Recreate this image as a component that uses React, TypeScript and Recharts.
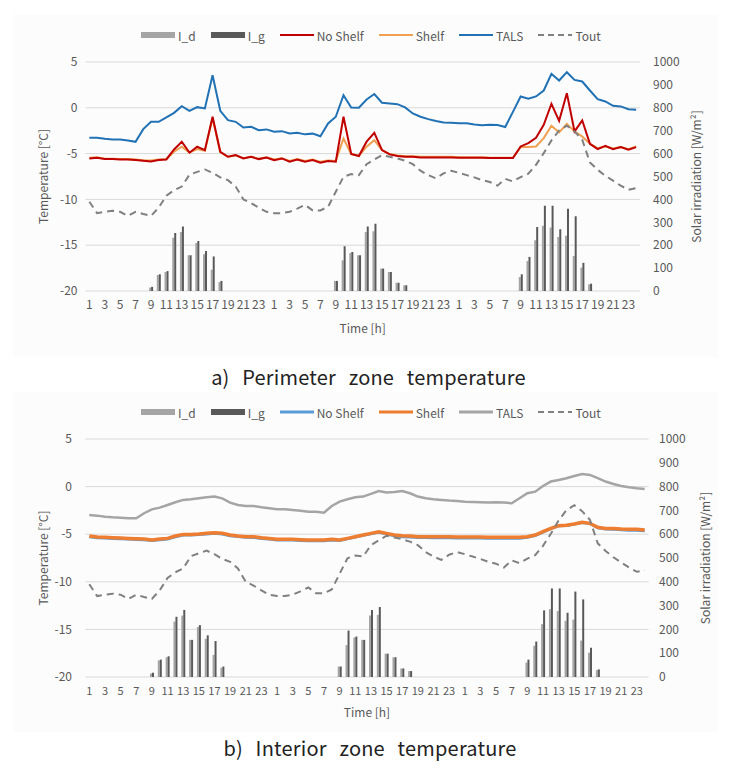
import React from 'react';
import { ComposedChart, Bar, Line, XAxis, YAxis, CartesianGrid, Legend } from 'recharts';

// ---------- categories ----------
const dayHours = [1, 2, 3, 4, 5, 6, 7, 8, 9, 10, 11, 12, 13, 14, 15, 16, 17, 18, 19, 20, 21, 22, 23, 24];
const days = [1, 2, 3];

// ---------- solar irradiation [W/m2] (shared by both panels) ----------
const iD = [
  0, 0, 0, 0, 0, 0, 0, 0, 15, 70, 83, 233, 258, 156, 210, 160, 93, 39, 0, 0, 0, 0, 0, 0,
  0, 0, 0, 0, 0, 0, 0, 0, 44, 134, 166, 156, 258, 261, 98, 83, 36, 25, 0, 0, 0, 0, 0, 0,
  0, 0, 0, 0, 0, 0, 0, 0, 61, 131, 222, 285, 277, 236, 241, 153, 102, 29, 0, 0, 0, 0, 0, 0,
];
const iG = [
  0, 0, 0, 0, 0, 0, 0, 0, 18, 73, 87, 253, 282, 156, 218, 175, 151, 44, 0, 0, 0, 0, 0, 0,
  0, 0, 0, 0, 0, 0, 0, 0, 44, 195, 170, 156, 282, 294, 98, 83, 36, 25, 0, 0, 0, 0, 0, 0,
  0, 0, 0, 0, 0, 0, 0, 0, 73, 149, 280, 372, 372, 270, 359, 326, 123, 32, 0, 0, 0, 0, 0, 0,
];

// ---------- outdoor temperature [°C] (shared) ----------
const tOut = [
  -10.25, -11.5, -11.35, -11.25, -11.35, -11.8, -11.35, -11.6, -11.8, -10.9,
  -9.6, -9.0, -8.6, -7.3, -7.0, -6.73, -7.1, -7.6, -7.9, -8.6,
  -10.0, -10.4, -10.9, -11.35, -11.5, -11.5, -11.35, -11.0, -10.6, -11.2,
  -11.2, -10.8, -9.16, -7.53, -7.24, -7.35, -6.15, -5.64, -5.16, -5.35,
  -5.53, -5.78, -6.15, -6.87, -7.35, -7.7, -7.16, -6.87, -7.1, -7.35,
  -7.6, -7.9, -8.1, -8.5, -7.75, -8.04, -7.56, -7.2, -6.22, -4.95,
  -3.56, -2.47, -1.96, -2.58, -3.49, -5.96, -6.76, -7.42, -7.96, -8.5,
  -8.95, -8.76,
];

// ---------- a) perimeter zone ----------
const noShelfPerimeter = [
  -5.53, -5.45, -5.6, -5.6, -5.64, -5.64, -5.71, -5.78, -5.85, -5.71,
  -5.64, -4.55, -3.71, -4.9, -4.25, -4.62, -0.98, -4.8, -5.35, -5.16,
  -5.53, -5.35, -5.6, -5.42, -5.71, -5.53, -5.89, -5.64, -5.89, -5.71,
  -6.0, -5.82, -5.89, -0.98, -5.05, -5.27, -3.7, -2.73, -4.62, -5.09,
  -5.27, -5.35, -5.35, -5.42, -5.42, -5.42, -5.42, -5.42, -5.45, -5.45,
  -5.45, -5.45, -5.49, -5.49, -5.49, -5.49, -4.22, -3.85, -3.27, -1.85,
  0.44, -1.42, 1.6, -2.58, -1.38, -3.93, -4.51, -4.15, -4.51, -4.29,
  -4.58, -4.29,
];
const shelfPerimeter = [
  -5.45, -5.4, -5.55, -5.55, -5.6, -5.6, -5.65, -5.72, -5.75, -5.65,
  -5.6, -4.8, -4.25, -4.9, -4.5, -4.7, -1.16, -4.85, -5.35, -5.2,
  -5.5, -5.35, -5.55, -5.4, -5.65, -5.5, -5.8, -5.6, -5.8, -5.65,
  -5.9, -5.75, -5.8, -3.35, -5.05, -5.25, -4.25, -3.53, -4.62, -5.05,
  -5.2, -5.3, -5.3, -5.35, -5.35, -5.35, -5.35, -5.35, -5.4, -5.4,
  -5.4, -5.4, -5.45, -5.45, -5.45, -5.45, -4.29, -4.29, -4.22, -3.31,
  -1.96, -2.69, -1.75, -2.58, -3.13, -3.93, -4.4, -4.22, -4.44, -4.29,
  -4.51, -4.22,
];
const talsPerimeter = [
  -3.27, -3.27, -3.38, -3.45, -3.45, -3.56, -3.71, -2.33, -1.53, -1.53,
  -1.05, -0.55, 0.18, -0.33, 0.07, -0.07, 3.56, -0.33, -1.35, -1.53,
  -2.15, -2.07, -2.44, -2.36, -2.62, -2.55, -2.8, -2.72, -2.9, -2.82,
  -3.1, -1.7, -0.98, 1.38, 0.04, 0.0, 0.9, 1.5, 0.55, 0.47,
  0.4, 0.04, -0.62, -0.98, -1.24, -1.45, -1.6, -1.64, -1.7, -1.7,
  -1.82, -1.9, -1.85, -1.89, -2.1, -0.44, 1.24, 0.98, 1.24, 1.89,
  3.71, 2.98, 3.89, 3.05, 2.87, 1.89, 0.95, 0.69, 0.22, 0.15,
  -0.15, -0.22,
];

// ---------- b) interior zone ----------
const noShelfInterior = [
  -5.3, -5.4, -5.43, -5.47, -5.5, -5.54, -5.57, -5.6, -5.7, -5.6,
  -5.54, -5.3, -5.12, -5.1, -5.06, -5.0, -4.93, -5.0, -5.18, -5.28,
  -5.35, -5.36, -5.47, -5.54, -5.64, -5.64, -5.64, -5.68, -5.71, -5.71,
  -5.71, -5.64, -5.7, -5.52, -5.33, -5.15, -4.97, -4.8, -5.0, -5.2,
  -5.3, -5.33, -5.38, -5.38, -5.4, -5.4, -5.4, -5.42, -5.42, -5.42,
  -5.42, -5.44, -5.45, -5.45, -5.45, -5.45, -5.36, -5.17, -4.8, -4.44,
  -4.15, -4.1, -3.97, -3.8, -3.9, -4.35, -4.48, -4.5, -4.56, -4.6,
  -4.6, -4.66,
];
const shelfInterior = [
  -5.19, -5.3, -5.33, -5.37, -5.4, -5.44, -5.47, -5.5, -5.61, -5.5,
  -5.44, -5.19, -5.02, -5.02, -4.98, -4.91, -4.84, -4.91, -5.09, -5.19,
  -5.26, -5.26, -5.37, -5.44, -5.54, -5.54, -5.54, -5.58, -5.61, -5.61,
  -5.61, -5.54, -5.61, -5.44, -5.26, -5.09, -4.91, -4.74, -4.91, -5.09,
  -5.16, -5.19, -5.26, -5.26, -5.28, -5.28, -5.28, -5.3, -5.3, -5.3,
  -5.3, -5.32, -5.33, -5.33, -5.33, -5.33, -5.26, -5.09, -4.74, -4.39,
  -4.1, -4.07, -3.93, -3.75, -3.86, -4.28, -4.39, -4.39, -4.46, -4.49,
  -4.49, -4.56,
];
const talsInterior = [
  -2.98, -3.05, -3.16, -3.23, -3.26, -3.33, -3.33, -2.8, -2.39, -2.21,
  -1.93, -1.65, -1.4, -1.33, -1.23, -1.12, -1.05, -1.23, -1.68, -1.93,
  -2.04, -2.04, -2.18, -2.28, -2.39, -2.39, -2.46, -2.53, -2.63, -2.63,
  -2.74, -2.04, -1.58, -1.33, -1.12, -1.05, -0.77, -0.46, -0.63, -0.56,
  -0.46, -0.7, -1.05, -1.23, -1.33, -1.4, -1.47, -1.51, -1.58, -1.61,
  -1.65, -1.68, -1.65, -1.68, -1.75, -1.23, -0.7, -0.53, 0.07, 0.53,
  0.7, 0.88, 1.12, 1.33, 1.23, 0.88, 0.53, 0.28, 0.07, -0.07,
  -0.18, -0.25,
];

// ---------- axis ticks ----------
const tempTicks = [-20, -15, -10, -5, 0, 5];
const solarTicks = [0, 100, 200, 300, 400, 500, 600, 700, 800, 900, 1000];

// ---------- build tables ----------
const categories = days.flatMap((d) => dayHours.map((h) => `${d}-${h}`));
const perimeterData = categories.map((c, i) => ({
  cat: c, I_d: iD[i], I_g: iG[i],
  noShelf: noShelfPerimeter[i], shelf: shelfPerimeter[i], tals: talsPerimeter[i], tout: tOut[i],
}));
const interiorData = categories.map((c, i) => ({
  cat: c, I_d: iD[i], I_g: iG[i],
  noShelf: noShelfInterior[i], shelf: shelfInterior[i], tals: talsInterior[i], tout: tOut[i],
}));

const FONT = '"Noto Sans CJK KR", "Noto Sans", sans-serif';
const TXT = '#595959';

type LegendItem = { label: string; kind: 'rect' | 'line' | 'dash'; color: string; width?: number };

const LegendRow = ({ items }: { items: LegendItem[] }) => (
  <div style={{ display: 'flex', alignItems: 'center', height: 16, paddingLeft: 141, fontSize: 12, color: TXT, fontFamily: FONT, whiteSpace: 'nowrap' }}>
    {items.map((it) => (
      <div key={it.label} style={{ display: 'flex', alignItems: 'center', marginRight: 15 }}>
        <svg width={34} height={10} style={{ marginRight: 3 }}>
          {it.kind === 'rect' ? (
            <rect x={0} y={2} width={34} height={6} fill={it.color} />
          ) : (
            <line x1={0} y1={5} x2={34} y2={5} stroke={it.color} strokeWidth={it.width ?? 2}
              strokeDasharray={it.kind === 'dash' ? '6 4' : undefined} />
          )}
        </svg>
        <span>{it.label}</span>
      </div>
    ))}
  </div>
);

const perimeterLegend: LegendItem[] = [
  { label: 'I_d', kind: 'rect', color: '#A5A5A5' },
  { label: 'I_g', kind: 'rect', color: '#595959' },
  { label: 'No Shelf', kind: 'line', color: '#C00000' },
  { label: 'Shelf', kind: 'line', color: '#F0A050' },
  { label: 'TALS', kind: 'line', color: '#2171B5' },
  { label: 'Tout', kind: 'dash', color: '#808080' },
];
const interiorLegend: LegendItem[] = [
  { label: 'I_d', kind: 'rect', color: '#A5A5A5' },
  { label: 'I_g', kind: 'rect', color: '#595959' },
  { label: 'No Shelf', kind: 'line', color: '#5B9BD5', width: 3 },
  { label: 'Shelf', kind: 'line', color: '#ED7D31', width: 3 },
  { label: 'TALS', kind: 'line', color: '#A5A5A5', width: 3 },
  { label: 'Tout', kind: 'dash', color: '#808080' },
];

const hourOf = (v: string) => v.split('-')[1];

type PanelProps = {
  data: any[];
  legend: LegendItem[];
  legendTop: number;
  margin: { top: number; right: number; bottom: number; left: number };
  leftTickMargin: number;
  rightTickMargin: number;
  xTickMargin: number;
  xTickSize: number;
  timeOffset: number;
  interior: boolean;
};

const Panel = ({ data, legend, legendTop, margin, leftTickMargin, rightTickMargin, xTickMargin, xTickSize, timeOffset, interior }: PanelProps) => (
  <ComposedChart width={731} height={345} data={data} margin={margin} barGap={0} style={{ fontFamily: FONT }}>
    <CartesianGrid vertical={false} yAxisId="temp" stroke="#D9D9D9" strokeWidth={1} />
    <XAxis dataKey="cat" interval={1} tickLine={false} axisLine={false} height={30}
      tickMargin={xTickMargin} tickFormatter={hourOf}
      tick={{ fontSize: xTickSize, fill: TXT }}
      label={{ value: 'Time [h]', position: 'bottom', offset: timeOffset, fill: TXT, fontSize: 12 }} />
    <YAxis yAxisId="temp" domain={[-20, 5]} ticks={tempTicks} width={60} tickLine={false} axisLine={false}
      tickMargin={leftTickMargin} tick={{ fontSize: 12, fill: TXT }} allowDataOverflow
      label={{ value: 'Temperature [°C]', angle: -90, position: 'insideLeft', offset: 18.5, fill: TXT, fontSize: 12, style: { textAnchor: 'middle' } }} />
    <YAxis yAxisId="solar" orientation="right" domain={[0, 1000]} ticks={solarTicks} width={60} tickLine={false} axisLine={false}
      tickMargin={rightTickMargin} tick={{ fontSize: 12, fill: TXT, textAnchor: 'start' }} allowDataOverflow
      label={{ value: 'Solar irradiation [W/m²]', angle: -90, position: 'insideRight', offset: 3, fill: TXT, fontSize: 12, style: { textAnchor: 'middle' } }} />
    <Legend verticalAlign="middle" align="center" layout="horizontal"
      wrapperStyle={{ top: legendTop, left: 0, width: 731, height: 16 }}
      content={() => <LegendRow items={legend} />} />
    <Bar yAxisId="solar" dataKey="I_d" name="I_d" fill="#A5A5A5" barSize={2} isAnimationActive={false} />
    <Bar yAxisId="solar" dataKey="I_g" name="I_g" fill="#595959" barSize={2} isAnimationActive={false} />
    {interior ? (
      <Line yAxisId="temp" dataKey="noShelf" name="No Shelf" stroke="#5B9BD5" strokeWidth={2.5} dot={false} activeDot={false} isAnimationActive={false} />
    ) : (
      <Line yAxisId="temp" dataKey="shelf" name="Shelf" stroke="#F0A050" strokeWidth={2} dot={false} activeDot={false} isAnimationActive={false} />
    )}
    {interior ? (
      <Line yAxisId="temp" dataKey="shelf" name="Shelf" stroke="#ED7D31" strokeWidth={3.5} dot={false} activeDot={false} isAnimationActive={false} />
    ) : (
      <Line yAxisId="temp" dataKey="noShelf" name="No Shelf" stroke="#C00000" strokeWidth={2} dot={false} activeDot={false} isAnimationActive={false} />
    )}
    <Line yAxisId="temp" dataKey="tals" name="TALS" stroke={interior ? '#A5A5A5' : '#2171B5'} strokeWidth={interior ? 2.5 : 2} dot={false} activeDot={false} isAnimationActive={false} />
    <Line yAxisId="temp" dataKey="tout" name="Tout" stroke="#808080" strokeWidth={2} strokeDasharray="7 5" dot={false} activeDot={false} isAnimationActive={false} />
  </ComposedChart>
);

const titleStyle: React.CSSProperties = {
  position: 'absolute', left: 0, width: 731, textAlign: 'center', boxSizing: 'border-box',
  fontSize: 20, color: '#222', wordSpacing: 8, letterSpacing: 0.2, lineHeight: '26px',
};

export default function App() {
  return (
    <div style={{ position: 'absolute', left: 0, top: 0, width: 731, height: 776, background: '#ffffff', fontFamily: FONT, overflow: 'hidden' }}>
      <div style={{ position: 'absolute', left: 13, top: 15, width: 705, height: 342, background: '#FCFCFC' }} />
      <div style={{ position: 'absolute', left: 13, top: 392, width: 705, height: 340, background: '#FCFCFC' }} />
      <div style={{ position: 'absolute', left: 0, top: 0 }}>
        <Panel data={perimeterData} legend={perimeterLegend} legendTop={27}
          margin={{ top: 62, right: 31, bottom: 24, left: 25.5 }}
          leftTickMargin={2} rightTickMargin={7} xTickMargin={3} xTickSize={12} timeOffset={3} interior={false} />
      </div>
      <div style={{ ...titleStyle, top: 364, paddingLeft: 6 }}>
        a) Perimeter zone temperature
      </div>
      <div style={{ position: 'absolute', left: 0, top: 380 }}>
        <Panel data={interiorData} legend={interiorLegend} legendTop={24}
          margin={{ top: 59, right: 22.4, bottom: 18, left: 25.4 }}
          leftTickMargin={7.4} rightTickMargin={4.4} xTickMargin={4} xTickSize={11} timeOffset={1} interior={true} />
      </div>
      <div style={{ ...titleStyle, top: 735, paddingLeft: 9 }}>
        b) Interior zone temperature
      </div>
    </div>
  );
}
